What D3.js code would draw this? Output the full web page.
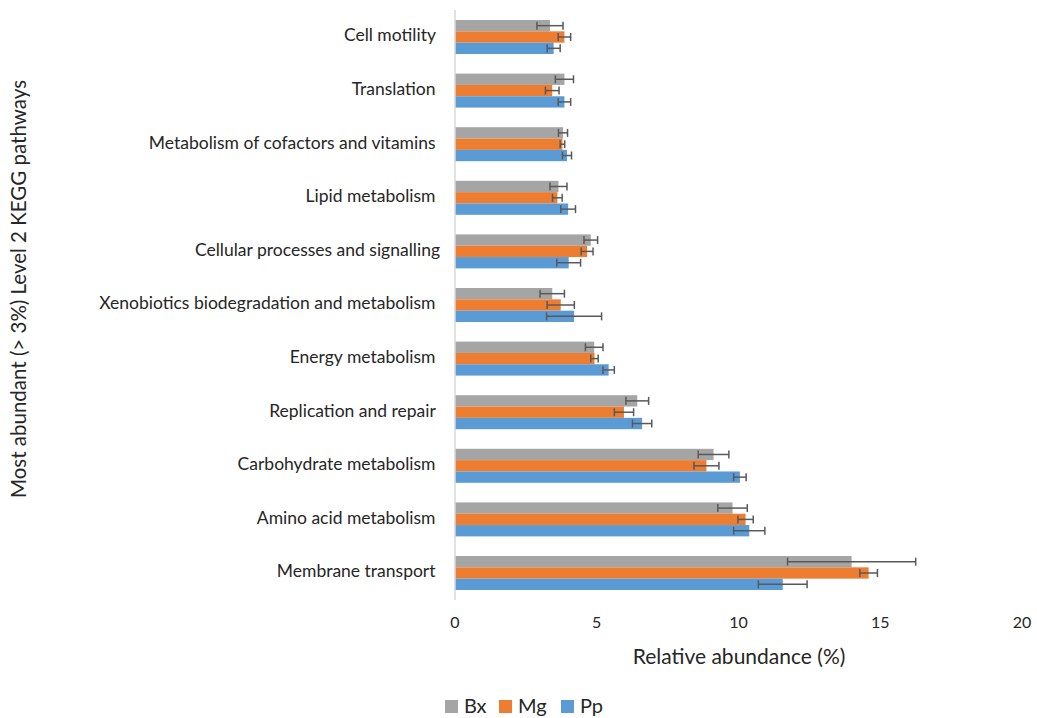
<!DOCTYPE html>
<html lang="en">
<head>
    <meta charset="UTF-8">
    <title>KEGG pathways</title>
    <script src="https://d3js.org/d3.v7.min.js"></script>
    <style>
        body { margin: 0; background: #fff; font-family: Lato, sans-serif; }
        text { fill: #262626; }
        .cat-label { font-size: 17.5px; white-space: pre; }
        .tick-label { font-size: 16px; }
    </style>
</head>
<body>
<svg id="chart" width="1037" height="718"></svg>
<script>
    const categories = ["Cell motility ", "Translation ", "Metabolism of cofactors and vitamins ",
        "Lipid metabolism ", "Cellular processes and signalling", "Xenobiotics biodegradation and metabolism ",
        "Energy metabolism ", "Replication and repair ", "Carbohydrate metabolism ",
        "Amino acid metabolism ", "Membrane transport "];
    const series = ["Bx", "Mg", "Pp"];
    const bx = [3.35, 3.86, 3.81, 3.65, 4.79, 3.43, 4.91, 6.43, 9.12, 9.79, 13.99];
    const bxErr = [0.46, 0.32, 0.16, 0.30, 0.24, 0.43, 0.31, 0.40, 0.54, 0.52, 2.26];
    const mg = [3.86, 3.43, 3.79, 3.61, 4.66, 3.73, 4.92, 5.96, 8.87, 10.25, 14.59];
    const mgErr = [0.22, 0.24, 0.08, 0.17, 0.21, 0.48, 0.13, 0.34, 0.44, 0.27, 0.31];
    const pp = [3.48, 3.86, 3.95, 3.99, 4.01, 4.20, 5.42, 6.60, 10.05, 10.38, 11.56];
    const ppErr = [0.23, 0.22, 0.16, 0.26, 0.42, 0.97, 0.20, 0.34, 0.22, 0.55, 0.86];
    const xTicks = [0, 5, 10, 15, 20];
    const colors = ["#A5A5A5", "#ED7D31", "#5B9BD5"];

    const values = [bx, mg, pp];
    const errors = [bxErr, mgErr, ppErr];

    const svg = d3.select("#chart");

    const x = d3.scaleLinear().domain([0, 20]).range([455, 1022]);
    const y = d3.scaleBand().domain(categories).range([10.2, 599.8])
        .paddingInner(0.366).paddingOuter(0.183);
    const ySub = d3.scaleBand().domain(series).range([0, y.bandwidth()]);

    // bars + error bars
    series.forEach((s, si) => {
        const g = svg.append("g");
        categories.forEach((c, i) => {
            const v = values[si][i], e = errors[si][i];
            const top = y(c) + ySub(s);
            const mid = top + ySub.bandwidth() / 2;
            g.append("rect")
                .attr("x", x(0))
                .attr("y", top)
                .attr("width", x(v) - x(0))
                .attr("height", ySub.bandwidth())
                .attr("fill", colors[si]);
            g.append("line")
                .attr("x1", x(v - e)).attr("x2", x(v + e))
                .attr("y1", mid).attr("y2", mid)
                .attr("stroke", "#595959").attr("stroke-width", 1.5);
            [v - e, v + e].forEach(t => {
                g.append("line")
                    .attr("x1", x(t)).attr("x2", x(t))
                    .attr("y1", mid - 4).attr("y2", mid + 4)
                    .attr("stroke", "#595959").attr("stroke-width", 1.5);
            });
        });
    });

    // vertical axis line
    svg.append("line")
        .attr("x1", x(0)).attr("x2", x(0))
        .attr("y1", 10).attr("y2", 600)
        .attr("stroke", "#D9D9D9").attr("stroke-width", 1.5);

    svg.selectAll(".cat-label")
        .data(categories)
        .enter()
        .append("text")
        .attr("class", "cat-label")
        .attr("x", 440)
        .attr("y", d => y(d) + y.bandwidth() / 2)
        .attr("text-anchor", "end")
        .attr("dominant-baseline", "middle")
        .text(d => d);

    svg.selectAll(".tick-label")
        .data(xTicks)
        .enter()
        .append("text")
        .attr("class", "tick-label")
        .attr("x", d => x(d))
        .attr("y", 628)
        .attr("text-anchor", "middle")
        .text(d => d);

    svg.append("text")
        .attr("x", 739)
        .attr("y", 664)
        .attr("text-anchor", "middle")
        .style("font-size", "21px")
        .text("Relative abundance (%)");

    svg.append("text")
        .attr("transform", "translate(26, 289) rotate(-90)")
        .attr("text-anchor", "middle")
        .style("font-size", "20.5px")
        .text("Most abundant (> 3%) Level 2 KEGG pathways");

    // legend
    const legendX = [445, 499, 561];
    const legend = svg.append("g");
    series.forEach((s, si) => {
        legend.append("rect")
            .attr("x", legendX[si]).attr("y", 700)
            .attr("width", 13).attr("height", 13)
            .attr("fill", colors[si]);
        legend.append("text")
            .attr("x", legendX[si] + 19).attr("y", 713)
            .style("font-size", "20px")
            .text(s);
    });
</script>
</body>
</html>
